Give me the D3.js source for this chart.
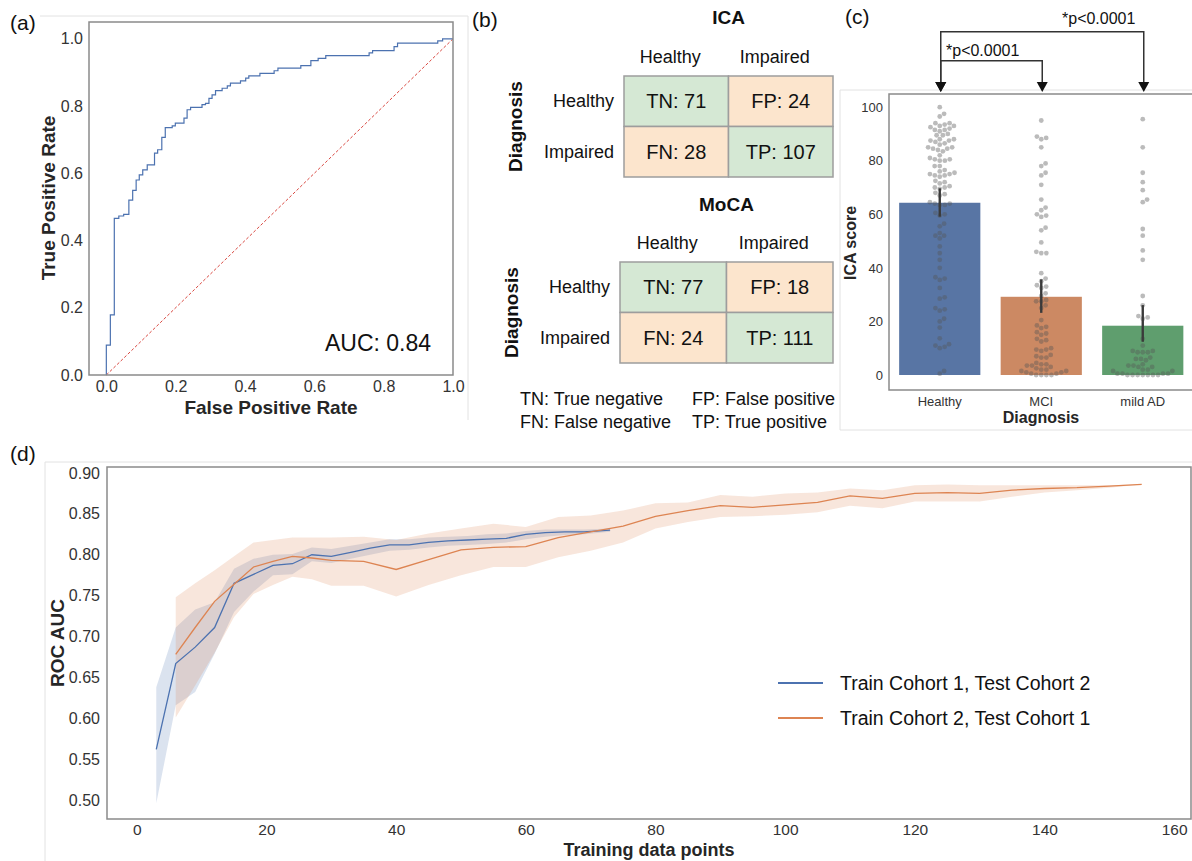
<!DOCTYPE html>
<html>
<head>
<meta charset="utf-8">
<script src="https://cdn.jsdelivr.net/npm/d3@7"></script>
<style>
body { margin: 0; background: #fff; }
svg { display: block; }
text { font-family: "Liberation Sans", Arial, sans-serif; }
</style>
</head>
<body>
<svg id="fig" width="1192" height="861"></svg>
<script>
// (a) ROC curve
const rocFpr = [0, 0, 0.0116, 0.023, 0.036, 0.050, 0.065, 0.076, 0.086, 0.095, 0.105, 0.118, 0.139, 0.148, 0.160, 0.170, 0.190, 0.199, 0.224, 0.233, 0.243, 0.276, 0.286, 0.296, 0.305, 0.315, 0.334, 0.349, 0.358, 0.387, 0.402, 0.411, 0.443, 0.484, 0.495, 0.561, 0.590, 0.611, 0.633, 0.758, 0.768, 0.830, 0.840, 0.956, 0.970, 1.0]
const rocTpr = [0, 0.089, 0.179, 0.466, 0.473, 0.478, 0.520, 0.549, 0.580, 0.595, 0.610, 0.625, 0.660, 0.670, 0.707, 0.736, 0.741, 0.749, 0.764, 0.789, 0.796, 0.804, 0.808, 0.823, 0.833, 0.846, 0.853, 0.860, 0.868, 0.875, 0.883, 0.890, 0.897, 0.905, 0.913, 0.920, 0.935, 0.942, 0.950, 0.958, 0.965, 0.977, 0.987, 0.994, 1.0, 1.0]
const rocTicks = [0, 0.2, 0.4, 0.6, 0.8, 1.0]
const aucText = 'AUC: 0.84'

// (b) confusion matrices
const cmLabels = ['Healthy', 'Impaired']
const icaCells = [['TN', 71], ['FP', 24], ['FN', 28], ['TP', 107]]
const mocaCells = [['TN', 77], ['FP', 18], ['FN', 24], ['TP', 111]]
const cmKey = [['TN: True negative', 'FP: False positive'], ['FN: False negative', 'TP: True positive']]

// (c) ICA score by diagnosis
const groups = ['Healthy', 'MCI', 'mild AD']
const groupMeans = [64.3, 29.2, 18.4]
const groupCiLow = [59.1, 23.2, 12.4]
const groupCiHigh = [69.7, 35.7, 26.1]
const healthyScores = [100, 97.5, 96.5, 94, 94, 93.5, 93, 93, 92.5, 92, 91.5, 91.5, 91, 90, 89.5, 89.5, 88, 88, 87.5, 87.5, 87, 86.5, 86, 85, 85, 84.5, 84.5, 84, 83.5, 82, 81, 80.5, 80.5, 80, 80, 78, 78, 76.5, 76, 75.5, 75, 75, 74.5, 74.5, 74, 72.5, 72, 71.5, 70.5, 70, 70, 69.5, 68, 67.5, 67, 64.5, 64, 64, 63.5, 63.5, 60.5, 60, 59.5, 56.5, 55.5, 53, 52, 52, 51, 48, 45.5, 43, 40, 36.5, 36, 35.5, 32.5, 29, 28.5, 25, 24.5, 24, 21, 20, 17.7, 13.7, 11.5, 11, 10.5, 10, 1.5, 0.5]
const mciScores = [95, 89, 88.5, 88, 85, 79, 78, 75.5, 74.5, 71, 65.5, 62.5, 61.5, 60, 59.5, 59, 55, 54, 49.5, 46, 45.5, 45.5, 38, 36, 35, 33.5, 33, 32.5, 30.5, 29.5, 28, 27.5, 27.5, 26, 25, 20.5, 18.5, 18, 17.5, 16, 15.5, 15, 13.5, 13, 12.5, 10, 9.5, 9.5, 9, 7.5, 7, 6.5, 6.5, 4.5, 4, 4, 3.5, 3.5, 3, 2.5, 2, 2, 1.5, 1.5, 1, 1, 0.5, 0.5, 0, 0, 0, 0]
const mildAdScores = [95.5, 85, 75.5, 72, 69, 65.5, 64.5, 54.5, 52, 46.5, 43, 29.5, 26, 22, 21.5, 21, 13.5, 11, 9, 9, 8.5, 8.5, 8.5, 6.5, 6, 6, 5.5, 4, 3.5, 3.5, 3, 3, 2, 2, 1.5, 1.5, 0.5, 0.5, 0.5, 0.5, 0, 0, 0, 0, 0, 0, 0]
const groupColors = ['#5875a4', '#cc8963', '#5f9e6e']
const pLabel = '*p<0.0001'

// (d) learning curves
const c1X = [3, 6, 9, 12, 15, 18, 21, 24, 27, 30, 33, 36, 39, 42, 45, 48, 51, 54, 57, 60, 63, 66, 69, 73]
const c1Auc = [0.562, 0.667, 0.687, 0.711, 0.765, 0.776, 0.787, 0.789, 0.800, 0.798, 0.803, 0.808, 0.812, 0.812, 0.815, 0.817, 0.818, 0.819, 0.820, 0.825, 0.827, 0.828, 0.828, 0.830]
const c1Lo = [0.496, 0.616, 0.632, 0.679, 0.730, 0.755, 0.775, 0.776, 0.792, 0.790, 0.795, 0.800, 0.805, 0.806, 0.809, 0.811, 0.812, 0.813, 0.815, 0.819, 0.822, 0.824, 0.825, 0.828]
const c1Hi = [0.638, 0.711, 0.733, 0.742, 0.783, 0.795, 0.800, 0.801, 0.809, 0.807, 0.811, 0.815, 0.819, 0.819, 0.821, 0.822, 0.823, 0.825, 0.826, 0.829, 0.831, 0.831, 0.831, 0.832]
const c2X = [6, 9, 12, 15, 18, 21, 24, 27, 30, 35, 40, 45, 50, 55, 60, 65, 70, 75, 80, 85, 90, 95, 100, 105, 110, 115, 120, 125, 130, 135, 140, 145, 150, 155]
const c2Auc = [0.678, 0.711, 0.743, 0.764, 0.785, 0.792, 0.798, 0.796, 0.793, 0.792, 0.782, 0.794, 0.806, 0.809, 0.810, 0.821, 0.828, 0.835, 0.847, 0.854, 0.860, 0.858, 0.861, 0.864, 0.872, 0.869, 0.875, 0.876, 0.875, 0.879, 0.881, 0.882, 0.884, 0.886]
const c2Lo = [0.601, 0.640, 0.680, 0.724, 0.752, 0.763, 0.773, 0.770, 0.762, 0.762, 0.749, 0.763, 0.775, 0.785, 0.785, 0.797, 0.805, 0.815, 0.832, 0.840, 0.846, 0.847, 0.849, 0.852, 0.860, 0.857, 0.865, 0.865, 0.865, 0.871, 0.876, 0.879, 0.882, 0.886]
const c2Hi = [0.748, 0.765, 0.781, 0.798, 0.815, 0.818, 0.821, 0.821, 0.821, 0.822, 0.818, 0.826, 0.832, 0.838, 0.834, 0.846, 0.848, 0.854, 0.863, 0.864, 0.873, 0.871, 0.875, 0.876, 0.881, 0.879, 0.885, 0.886, 0.885, 0.885, 0.885, 0.885, 0.885, 0.886]
const seriesNames = ['Train Cohort 1, Test Cohort 2', 'Train Cohort 2, Test Cohort 1']
const seriesColors = ['#4c72b0', '#dd8452']
const aucTicks = [0.50, 0.55, 0.60, 0.65, 0.70, 0.75, 0.80, 0.85, 0.90]
const sizeTicks = [0, 20, 40, 60, 80, 100, 120, 140, 160]

const svg = d3.select('#fig')
const frameColor = '#8a8a8a'
const faint = '#e2e2e2'

const label = (x, y, t, size, opts = {}) => svg.append('text')
	.attr('x', x).attr('y', y).text(t)
	.attr('font-size', size)
	.attr('font-weight', opts.bold ? 'bold' : null)
	.attr('text-anchor', opts.anchor || 'start')
	.attr('fill', opts.fill || '#111')
	.attr('transform', opts.rotate ? `rotate(-90,${x},${y})` : null)

const faintLine = (x1, y1, x2, y2) => svg.append('line')
	.attr('x1', x1).attr('y1', y1).attr('x2', x2).attr('y2', y2)
	.attr('stroke', faint).attr('stroke-width', 1)

const styleAxis = (g, size) => {
	g.select('.domain').remove()
	g.selectAll('text').attr('font-size', size).attr('fill', '#333')
		.attr('font-family', '"Liberation Sans", Arial, sans-serif')
}

// ---------- (a) ----------
faintLine(40, 16, 468, 16)
faintLine(468, 16, 468, 420)
label(10, 30, '(a)', 21)

const ax = d3.scaleLinear().domain([-0.05, 1.0]).range([89, 453])
const ay = d3.scaleLinear().domain([0, 1.05]).range([375, 22])

svg.append('g').attr('transform', 'translate(89,0)')
	.call(d3.axisLeft(ay).tickValues(rocTicks).tickFormat(d3.format('.1f')).tickSize(0).tickPadding(6))
	.call(g => styleAxis(g, 16))
svg.append('g').attr('transform', 'translate(0,375)')
	.call(d3.axisBottom(ax).tickValues(rocTicks).tickFormat(d3.format('.1f')).tickSize(0).tickPadding(6))
	.call(g => styleAxis(g, 16))

svg.append('line')
	.attr('x1', ax(0)).attr('y1', ay(0)).attr('x2', ax(1)).attr('y2', ay(1))
	.attr('stroke', '#d9473f').attr('stroke-width', 1).attr('stroke-dasharray', '3,2')

svg.append('path')
	.datum(rocFpr.map((f, i) => [f, rocTpr[i]]))
	.attr('fill', 'none').attr('stroke', '#4c72b0').attr('stroke-width', 1.2)
	.attr('d', d3.line().x(d => ax(d[0])).y(d => ay(d[1])).curve(d3.curveStepAfter))

svg.append('rect').attr('x', 89).attr('y', 22).attr('width', 364).attr('height', 353)
	.attr('fill', 'none').attr('stroke', frameColor).attr('stroke-width', 1.5)

label(378, 351, aucText, 23, { anchor: 'middle' })
label(271, 414, 'False Positive Rate', 19, { bold: true, anchor: 'middle', fill: '#262626' })
label(55, 198, 'True Positive Rate', 19, { bold: true, anchor: 'middle', rotate: true, fill: '#262626' })

// ---------- (b) ----------
label(472, 27, '(b)', 21)

const drawMatrix = (cells, title, x0, x1, y0, y1, titleY, headY, diagX) => {
	const cx = d3.scaleBand().domain(cmLabels).range([x0, x1])
	const cy = d3.scaleBand().domain(cmLabels).range([y0, y1])
	const mid = (x0 + x1) / 2
	label(mid, titleY, title, 19, { bold: true, anchor: 'middle' })
	cmLabels.forEach(l => label(cx(l) + cx.bandwidth() / 2 - 6, headY, l, 18, { anchor: 'middle' }))
	cmLabels.forEach(l => label(x0 - 10, cy(l) + cy.bandwidth() / 2 + 6, l, 18, { anchor: 'end' }))
	cells.forEach((c, i) => {
		const col = cmLabels[i % 2]
		const row = cmLabels[Math.floor(i / 2)]
		const good = c[0] === 'TN' || c[0] === 'TP'
		svg.append('rect')
			.attr('x', cx(col)).attr('y', cy(row))
			.attr('width', cx.bandwidth()).attr('height', cy.bandwidth())
			.attr('fill', good ? '#d5e8d4' : '#fce5cd')
			.attr('stroke', '#9d9d9d').attr('stroke-width', 1.5)
		label(cx(col) + cx.bandwidth() / 2, cy(row) + cy.bandwidth() / 2 + 7, `${c[0]}: ${c[1]}`, 20, { anchor: 'middle' })
	})
	label(diagX, (y0 + y1) / 2, 'Diagnosis', 19, { bold: true, anchor: 'middle', rotate: true })
}
drawMatrix(icaCells, 'ICA', 624, 833, 76, 177, 24, 63, 522)
drawMatrix(mocaCells, 'MoCA', 620, 833, 262, 363, 211, 249, 518)

cmKey.forEach((row, r) => {
	label(520, 405 + r * 23, row[0], 18)
	label(692, 405 + r * 23, row[1], 18)
})

// ---------- (c) ----------
faintLine(840, 90, 1192, 90)
faintLine(840, 90, 840, 430)
faintLine(840, 430, 1192, 430)
label(845, 24, '(c)', 21)

const cx = d3.scaleBand().domain(groups).range([889, 1193.5]).paddingInner(0.2).paddingOuter(0.1)
const cy = d3.scaleLinear().domain([-5.6, 104.9]).range([390, 94])

svg.append('g').attr('transform', 'translate(889,0)')
	.call(d3.axisLeft(cy).tickValues([0, 20, 40, 60, 80, 100]).tickSize(0).tickPadding(6))
	.call(g => styleAxis(g, 13))
svg.append('g').attr('transform', 'translate(0,390)')
	.call(d3.axisBottom(cx).tickSize(0).tickPadding(7))
	.call(g => styleAxis(g, 13))

svg.append('g').selectAll('rect').data(groups).join('rect')
	.attr('x', d => cx(d)).attr('width', cx.bandwidth())
	.attr('y', (d, i) => cy(groupMeans[i]))
	.attr('height', (d, i) => cy(0) - cy(groupMeans[i]))
	.attr('fill', (d, i) => groupColors[i])

const swarm = (values, center, r) => {
	const gap = 2 * r + 0.3
	const placed = []
	values.slice().sort((a, b) => a - b).forEach(v => {
		const py = cy(v)
		const cands = [0]
		placed.forEach(p => {
			const dy = Math.abs(p.y - py)
			if (dy < gap) {
				const dx = Math.sqrt(gap * gap - dy * dy)
				cands.push(p.dx + dx, p.dx - dx)
			}
		})
		cands.sort((a, b) => Math.abs(a) - Math.abs(b))
		const dx = cands.find(c => placed.every(p => (p.dx - c) ** 2 + (p.y - py) ** 2 >= gap * gap - 0.01))
		placed.push({ dx, y: py })
	})
	return placed.map(p => ({ x: center + p.dx, y: p.y }))
}

const dotR = 2.4
;[healthyScores, mciScores, mildAdScores].forEach((vals, i) => {
	const center = cx(groups[i]) + cx.bandwidth() / 2
	svg.append('g').selectAll('circle').data(swarm(vals, center, dotR)).join('circle')
		.attr('cx', d => d.x).attr('cy', d => d.y).attr('r', dotR)
		.attr('fill', '#555').attr('fill-opacity', 0.4)
	svg.append('line')
		.attr('x1', center).attr('x2', center)
		.attr('y1', cy(groupCiLow[i])).attr('y2', cy(groupCiHigh[i]))
		.attr('stroke', '#3a3a3a').attr('stroke-width', 2.4)
})

svg.append('rect').attr('x', 889).attr('y', 94).attr('width', 320).attr('height', 296)
	.attr('fill', 'none').attr('stroke', frameColor).attr('stroke-width', 1.5)

label(1041, 423, 'Diagnosis', 16, { bold: true, anchor: 'middle', fill: '#262626' })
label(856, 243, 'ICA score', 16, { bold: true, anchor: 'middle', rotate: true, fill: '#262626' })

const gc = g => cx(g) + cx.bandwidth() / 2 + 1
const bracket = (from, to, yTop, textX, textY) => {
	svg.append('path')
		.attr('d', `M${gc(from)},83 V${yTop} H${gc(to)} V83`)
		.attr('fill', 'none').attr('stroke', '#333').attr('stroke-width', 1.5)
	;[from, to].forEach(g => svg.append('path')
		.attr('d', `M${gc(g) - 5.5},82 L${gc(g) + 5.5},82 L${gc(g)},92 Z`)
		.attr('fill', '#111'))
	label(textX, textY, pLabel, 16)
}
bracket('Healthy', 'mild AD', 31.7, 1062, 24)
bracket('Healthy', 'MCI', 60.7, 946, 56)

// ---------- (d) ----------
faintLine(45, 462, 1192, 462)
faintLine(45, 462, 45, 861)
label(10, 461, '(d)', 21)

const dx = d3.scaleLinear().domain([-4.6, 162.6]).range([107, 1191])
const dy = d3.scaleLinear().domain([0.4768, 0.9073]).range([819, 467])

svg.append('g').attr('transform', 'translate(107,0)')
	.call(d3.axisLeft(dy).tickValues(aucTicks).tickFormat(d3.format('.2f')).tickSize(0).tickPadding(7))
	.call(g => styleAxis(g, 16))
svg.append('g').attr('transform', 'translate(0,819)')
	.call(d3.axisBottom(dx).tickValues(sizeTicks).tickSize(0).tickPadding(5))
	.call(g => styleAxis(g, 15.5))

const series = [
	{ x: c1X, y: c1Auc, lo: c1Lo, hi: c1Hi },
	{ x: c2X, y: c2Auc, lo: c2Lo, hi: c2Hi }
]
series.forEach((s, k) => {
	const pts = s.x.map((v, i) => ({ x: v, y: s.y[i], lo: s.lo[i], hi: s.hi[i] }))
	svg.append('path').datum(pts)
		.attr('fill', seriesColors[k]).attr('fill-opacity', 0.2)
		.attr('d', d3.area().x(d => dx(d.x)).y0(d => dy(d.lo)).y1(d => dy(d.hi)))
})
series.forEach((s, k) => {
	const pts = s.x.map((v, i) => ({ x: v, y: s.y[i] }))
	svg.append('path').datum(pts)
		.attr('fill', 'none').attr('stroke', seriesColors[k]).attr('stroke-width', 1.3)
		.attr('d', d3.line().x(d => dx(d.x)).y(d => dy(d.y)))
})

svg.append('rect').attr('x', 107).attr('y', 467).attr('width', 1084).attr('height', 352)
	.attr('fill', 'none').attr('stroke', frameColor).attr('stroke-width', 1.5)

seriesNames.forEach((n, k) => {
	const y = 683 + k * 35
	svg.append('line').attr('x1', 778).attr('x2', 823).attr('y1', y).attr('y2', y)
		.attr('stroke', seriesColors[k]).attr('stroke-width', 1.8)
	label(840, y + 7, n, 19.5)
})

label(649, 856, 'Training data points', 18, { bold: true, anchor: 'middle', fill: '#262626' })
label(64, 643, 'ROC AUC', 19, { bold: true, anchor: 'middle', rotate: true, fill: '#262626' })
</script>
</body>
</html>
